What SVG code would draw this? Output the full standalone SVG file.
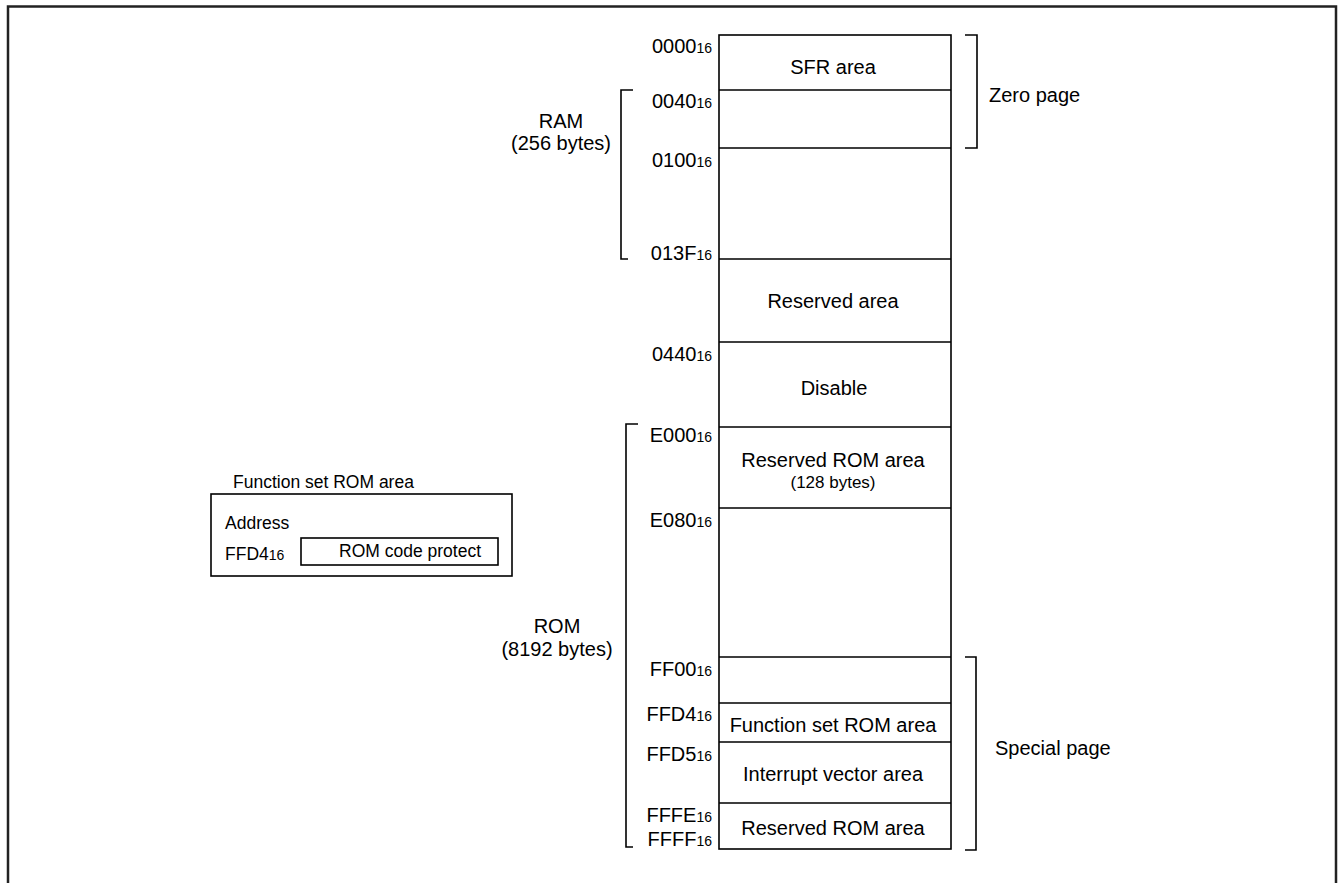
<svg xmlns="http://www.w3.org/2000/svg" width="1339" height="883" viewBox="0 0 1339 883">
<style>
text{font-family:"Liberation Sans",Arial,sans-serif;font-size:20px;fill:#000}
.a{text-anchor:end}
.c{text-anchor:middle}
.s{font-size:14px}
.sm{font-size:17px}
.b{font-size:17.5px}
.ln{stroke:#000;stroke-width:1.6;fill:none}
</style>
<rect width="1339" height="883" fill="#fff"/>
<path d="M8,883 V6.5 H1336 V883" fill="none" stroke="#222" stroke-width="2.5"/>
<g id="memory-map">
<rect x="719" y="35" width="232" height="814" class="ln"/>
<path class="ln" d="M719,90H951M719,148H951M719,259H951M719,342H951M719,427H951M719,508H951M719,657H951M719,703H951M719,742H951M719,803H951"/>
<text x="833" y="74" class="c">SFR area</text>
<text x="833" y="308" class="c">Reserved area</text>
<text x="834" y="395" class="c">Disable</text>
<text x="833" y="467" class="c">Reserved ROM area</text>
<text x="833" y="488" class="c sm">(128 bytes)</text>
<text x="833" y="732" class="c">Function set ROM area</text>
<text x="833" y="781" class="c">Interrupt vector area</text>
<text x="833" y="835" class="c">Reserved ROM area</text>
</g>
<g id="addresses">
<text x="712" y="53" class="a">0000<tspan class="s">16</tspan></text>
<text x="712" y="108" class="a">0040<tspan class="s">16</tspan></text>
<text x="712" y="167" class="a">0100<tspan class="s">16</tspan></text>
<text x="712" y="260" class="a">013F<tspan class="s">16</tspan></text>
<text x="712" y="361" class="a">0440<tspan class="s">16</tspan></text>
<text x="712" y="442" class="a">E000<tspan class="s">16</tspan></text>
<text x="712" y="527" class="a">E080<tspan class="s">16</tspan></text>
<text x="712" y="676" class="a">FF00<tspan class="s">16</tspan></text>
<text x="712" y="721" class="a">FFD4<tspan class="s">16</tspan></text>
<text x="712" y="761" class="a">FFD5<tspan class="s">16</tspan></text>
<text x="712" y="822" class="a">FFFE<tspan class="s">16</tspan></text>
<text x="712" y="846" class="a">FFFF<tspan class="s">16</tspan></text>
</g>
<g id="zero-page">
<path class="ln" d="M965,35H977V148H965"/>
<text x="989" y="102">Zero page</text>
</g>
<g id="special-page">
<path class="ln" d="M965,657H976V850H965"/>
<text x="995" y="755">Special page</text>
</g>
<g id="ram">
<path class="ln" d="M633,90H621V259H628"/>
<text x="561" y="128" class="c">RAM</text>
<text x="561" y="150" class="c">(256 bytes)</text>
</g>
<g id="rom">
<path class="ln" d="M638,424H626V847H633"/>
<text x="557" y="633" class="c">ROM</text>
<text x="557" y="656" class="c">(8192 bytes)</text>
</g>
<g id="function-set-box">
<text x="233" y="488" class="b">Function set ROM area</text>
<rect x="211" y="494" width="301" height="82" class="ln"/>
<text x="225" y="529" class="b">Address</text>
<text x="225" y="560" class="b">FFD4<tspan style="font-size:14px">16</tspan></text>
<rect x="301" y="538" width="197" height="27" class="ln" stroke-width="1.3"/>
<text x="410" y="557" class="c b">ROM code protect</text>
</g>
</svg>
